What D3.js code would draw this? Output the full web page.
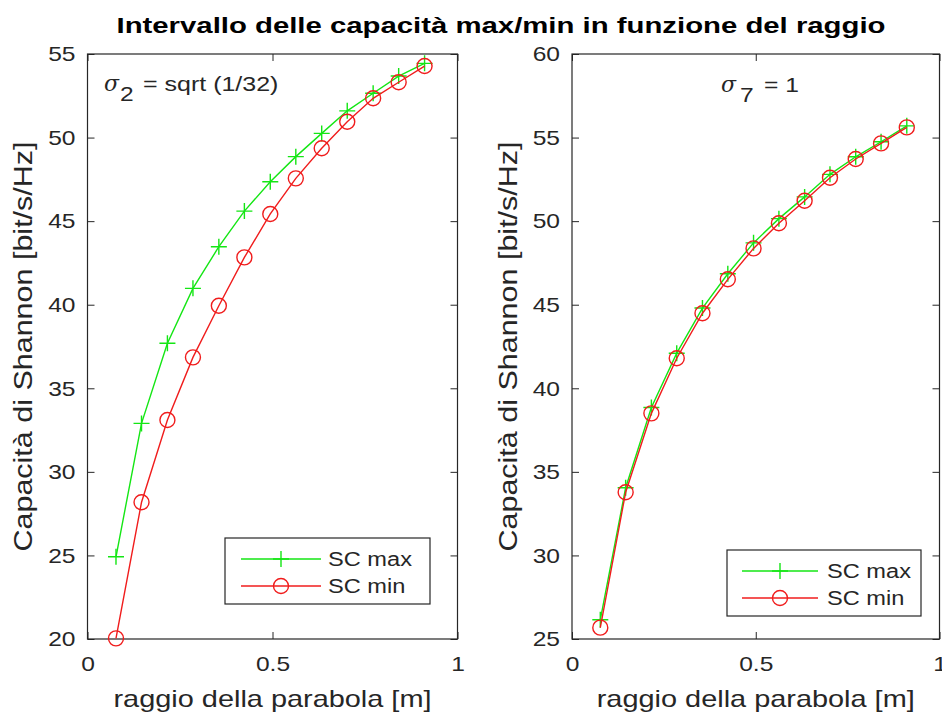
<!DOCTYPE html>
<html>
<head>
<meta charset="utf-8">
<script src="https://cdn.jsdelivr.net/npm/d3@7"></script>
<style>
  body { margin: 0; background: #fff; }
  text { font-family: "Liberation Sans", Arial, sans-serif; fill: #262626; }
</style>
</head>
<body>
<div id="chart"></div>
<script>
// raggio della parabola [m]
const radius = [0.077, 0.146, 0.216, 0.285, 0.355, 0.424, 0.494, 0.563, 0.633, 0.702, 0.772, 0.841, 0.911]

// sigma_2 = sqrt(1/32)
const leftMax = [24.92, 32.9, 37.69, 40.98, 43.47, 45.6, 47.36, 48.86, 50.25, 51.6, 52.65, 53.68, 54.44]
const leftMin = [20.04, 28.18, 33.1, 36.85, 39.94, 42.83, 45.43, 47.56, 49.36, 50.95, 52.35, 53.31, 54.28]

// sigma_7 = 1
const rightMax = [26.15, 34.05, 38.85, 42.1, 44.8, 46.85, 48.7, 50.15, 51.45, 52.8, 53.85, 54.75, 55.7]
const rightMin = [25.68, 33.78, 38.5, 41.8, 44.49, 46.52, 48.37, 49.87, 51.22, 52.6, 53.72, 54.65, 55.61]

const xTicks = [0, 0.5, 1]
const leftYTicks = [20, 25, 30, 35, 40, 45, 50, 55]
const rightYTicks = [25, 30, 35, 40, 45, 50, 55, 60]
const seriesNames = ["SC max", "SC min"]

const title = "Intervallo delle capacità max/min in funzione del raggio"
const xLabel = "raggio della parabola [m]"
const yLabel = "Capacità di Shannon [bit/s/Hz]"

const width = 942
const height = 713
const green = "#14e614"
const red = "#f01c1c"
const axisColor = "#262626"
const stretch = 1.17

const svg = d3.select("#chart")
  .append("svg")
  .attr("width", width)
  .attr("height", height)

// glyphs in the picture are a bit wider than Liberation Sans
const widen = (sel, k) => sel.each(function () {
  const w = this.getComputedTextLength()
  d3.select(this).attr("textLength", w * k).attr("lengthAdjust", "spacingAndGlyphs")
})

svg.append("text")
  .attr("x", 501)
  .attr("y", 32.5)
  .attr("text-anchor", "middle")
  .style("font-size", "22px")
  .style("font-weight", "bold")
  .style("fill", "#000")
  .attr("textLength", 769)
  .attr("lengthAdjust", "spacingAndGlyphs")
  .text(title)

function drawPanel(p) {
  const x = d3.scaleLinear().domain([0, 1]).range([p.left, p.right])
  const y = d3.scaleLinear().domain(p.yDomain).range([639, 54])
  const g = svg.append("g")

  g.append("rect")
    .attr("x", p.left).attr("y", 54)
    .attr("width", p.right - p.left).attr("height", 585)
    .attr("fill", "#fff")

  const styleAxis = (sel) => {
    sel.select(".domain").remove()
    sel.selectAll("line").attr("stroke", axisColor)
    sel.selectAll("text")
      .style("font-size", "21px")
      .attr("fill", axisColor)
  }

  g.append("g")
    .attr("transform", `translate(0,639)`)
    .call(d3.axisBottom(x).tickValues(xTicks).tickFormat(d3.format("")).tickSize(-7).tickPadding(17))
    .call(styleAxis)
    .call(s => s.selectAll("text").call(widen, stretch))
  g.append("g")
    .attr("transform", `translate(0,54)`)
    .call(d3.axisTop(x).tickValues(xTicks).tickFormat("").tickSize(-7))
    .call(styleAxis)
  g.append("g")
    .attr("transform", `translate(${p.left},0)`)
    .call(d3.axisLeft(y).tickValues(p.yTicks).tickSize(-7).tickPadding(12))
    .call(styleAxis)
    .call(s => s.selectAll("text").call(widen, stretch))
  g.append("g")
    .attr("transform", `translate(${p.right},0)`)
    .call(d3.axisRight(y).tickValues(p.yTicks).tickFormat("").tickSize(-7))
    .call(styleAxis)

  g.append("rect")
    .attr("x", p.left).attr("y", 54)
    .attr("width", p.right - p.left).attr("height", 585)
    .attr("fill", "none")
    .attr("stroke", axisColor)
    .attr("stroke-width", 1.2)

  const line = d3.line()
    .x((d, i) => x(radius[i]))
    .y(d => y(d))

  // SC max: green with + markers
  g.append("path")
    .attr("d", line(p.maxValues))
    .attr("fill", "none")
    .attr("stroke", green)
    .attr("stroke-width", 1.4)
  g.append("g").selectAll("path")
    .data(p.maxValues)
    .join("path")
    .attr("d", (d, i) => `M${x(radius[i]) - 8},${y(d)}h16M${x(radius[i])},${y(d) - 8}v16`)
    .attr("stroke", green)
    .attr("stroke-width", 1.4)

  // SC min: red with o markers
  g.append("path")
    .attr("d", line(p.minValues))
    .attr("fill", "none")
    .attr("stroke", red)
    .attr("stroke-width", 1.4)
  g.append("g").selectAll("circle")
    .data(p.minValues)
    .join("circle")
    .attr("cx", (d, i) => x(radius[i]))
    .attr("cy", d => y(d))
    .attr("r", 7.5)
    .attr("fill", "none")
    .attr("stroke", red)
    .attr("stroke-width", 1.4)

  // axis labels
  g.append("text")
    .attr("x", (p.left + p.right) / 2)
    .attr("y", 707)
    .attr("text-anchor", "middle")
    .style("font-size", "24px")
    .attr("textLength", 318)
    .attr("lengthAdjust", "spacingAndGlyphs")
    .text(xLabel)
  g.append("text")
    .attr("transform", `translate(${p.yLabelX},346.5) rotate(-90)`)
    .attr("text-anchor", "middle")
    .style("font-size", "25px")
    .attr("textLength", 410)
    .attr("lengthAdjust", "spacingAndGlyphs")
    .text(yLabel)

  // sigma annotation
  const a = p.note
  g.append("text")
    .attr("x", a.x).attr("y", a.y)
    .style("font-size", "22px")
    .style("font-style", "italic")
    .style("font-family", "'DejaVu Serif', serif")
    .text("σ")
  g.append("text")
    .attr("x", a.subX).attr("y", a.y + 10)
    .style("font-size", "21px")
    .text(a.sub)
    .call(widen, stretch)
  g.append("text")
    .attr("x", a.restX).attr("y", a.y)
    .style("font-size", "21px")
    .text(a.rest)
    .call(widen, a.k)

  // legend
  const L = p.legend
  const lg = g.append("g")
  lg.append("rect")
    .attr("x", L.x).attr("y", L.y)
    .attr("width", L.w).attr("height", L.h)
    .attr("fill", "#fff")
    .attr("stroke", axisColor)
    .attr("stroke-width", 1.2)
  const rows = [
    { name: seriesNames[0], color: green, cy: L.y + 21 },
    { name: seriesNames[1], color: red, cy: L.y + 48 }
  ]
  rows.forEach((r, i) => {
    lg.append("line")
      .attr("x1", L.x + L.lineStart).attr("x2", L.x + L.lineEnd)
      .attr("y1", r.cy).attr("y2", r.cy)
      .attr("stroke", r.color).attr("stroke-width", 1.4)
    const mx = L.x + (L.lineStart + L.lineEnd) / 2
    if (i === 0) {
      lg.append("path")
        .attr("d", `M${mx - 8},${r.cy}h16M${mx},${r.cy - 8}v16`)
        .attr("stroke", r.color).attr("stroke-width", 1.4)
    } else {
      lg.append("circle")
        .attr("cx", mx).attr("cy", r.cy).attr("r", 7.5)
        .attr("fill", "none").attr("stroke", r.color).attr("stroke-width", 1.4)
    }
    lg.append("text")
      .attr("x", L.x + L.textX)
      .attr("y", r.cy + 7)
      .style("font-size", "20px")
      .text(r.name)
      .call(widen, 1.18)
  })
}

drawPanel({
  left: 87.5, right: 457.5,
  yDomain: [20, 55], yTicks: leftYTicks,
  maxValues: leftMax, minValues: leftMin,
  yLabelX: 32,
  note: { x: 104, y: 91, sub: "2", subX: 120, rest: "= sqrt (1/32)", restX: 143, k: 1.19 },
  legend: { x: 225, y: 538, w: 205, h: 66, lineStart: 16, lineEnd: 96, textX: 103 }
})

drawPanel({
  left: 572, right: 939.5,
  yDomain: [25, 60], yTicks: rightYTicks,
  maxValues: rightMax, minValues: rightMin,
  yLabelX: 517,
  note: { x: 721, y: 92, sub: "7", subX: 740, rest: "= 1", restX: 764, k: 1.17 },
  legend: { x: 727, y: 550, w: 194, h: 66, lineStart: 15, lineEnd: 91, textX: 100 }
})
</script>
</body>
</html>
